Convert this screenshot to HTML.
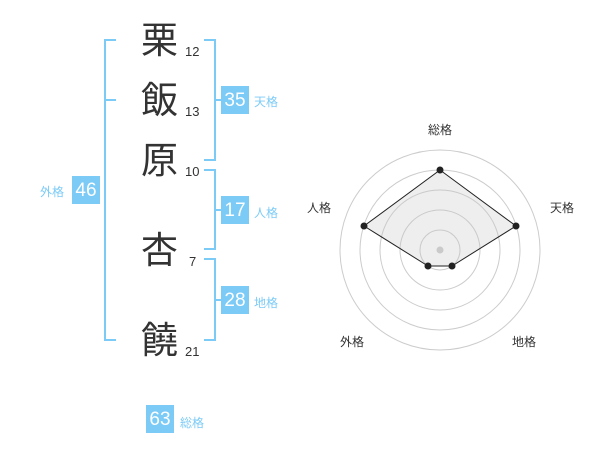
<!DOCTYPE html>
<html><head><meta charset="utf-8"><style>
body{margin:0;width:600px;height:470px;background:#fff;position:relative;overflow:hidden;font-family:"Liberation Sans","Noto Sans CJK JP",sans-serif}
.k{position:absolute;font-size:37px;color:#333;line-height:1;left:141px}
.n{position:absolute;font-size:13px;color:#333;line-height:1}
.b{position:absolute;background:#7ccbf7;color:#fff;font-size:19px;width:28px;height:28px;line-height:30px;text-align:center}
.l{position:absolute;font-size:12px;color:#7ccbf7;line-height:1}
.r{position:absolute;font-size:12px;color:#333;line-height:1}
</style></head><body>
<svg width="600" height="470" style="position:absolute;left:0;top:0">
<g stroke="#7ccbf7" stroke-width="2" fill="none">
<path d="M116 40H105V340H116M105 100H116"/>
<path d="M204 40H215V160H204M215 100H221"/>
<path d="M204 170H215V249H204M215 210H221"/>
<path d="M204 259H215V340H204M215 300H221"/>
</g>
<g fill="none" stroke="#ccc" stroke-width="1">
<circle cx="440" cy="250" r="100"/><circle cx="440" cy="250" r="80"/><circle cx="440" cy="250" r="60"/><circle cx="440" cy="250" r="40"/><circle cx="440" cy="250" r="20"/>
</g>
<circle cx="440" cy="250" r="3.5" fill="#ccc"/>
<polygon points="440,170 516,226 452,266 428,266 364,226" fill="rgba(200,200,200,0.3)" stroke="#222" stroke-width="1"/>
<g fill="#222"><circle cx="440" cy="170" r="3.5"/><circle cx="516" cy="226" r="3.5"/><circle cx="452" cy="266" r="3.5"/><circle cx="428" cy="266" r="3.5"/><circle cx="364" cy="226" r="3.5"/></g>
</svg>
<div class="k" style="top:22px">栗</div><div class="n" style="left:185px;top:45px">12</div>
<div class="k" style="top:82px">飯</div><div class="n" style="left:185px;top:105px">13</div>
<div class="k" style="top:142px">原</div><div class="n" style="left:185px;top:165px">10</div>
<div class="k" style="top:232px">杏</div><div class="n" style="left:189px;top:255px">7</div>
<div class="k" style="top:322px">饒</div><div class="n" style="left:185px;top:345px">21</div>
<div class="b" style="left:221px;top:86px">35</div><div class="l" style="left:254px;top:96px">天格</div>
<div class="b" style="left:72px;top:176px">46</div><div class="l" style="left:40px;top:186px">外格</div>
<div class="b" style="left:221px;top:196px">17</div><div class="l" style="left:254px;top:207px">人格</div>
<div class="b" style="left:221px;top:286px">28</div><div class="l" style="left:254px;top:297px">地格</div>
<div class="b" style="left:146px;top:405px">63</div><div class="l" style="left:180px;top:417px">総格</div>
<div class="r" style="left:428px;top:124px">総格</div>
<div class="r" style="left:550px;top:202px">天格</div>
<div class="r" style="left:307px;top:202px">人格</div>
<div class="r" style="left:340px;top:336px">外格</div>
<div class="r" style="left:512px;top:336px">地格</div>
</body></html>
